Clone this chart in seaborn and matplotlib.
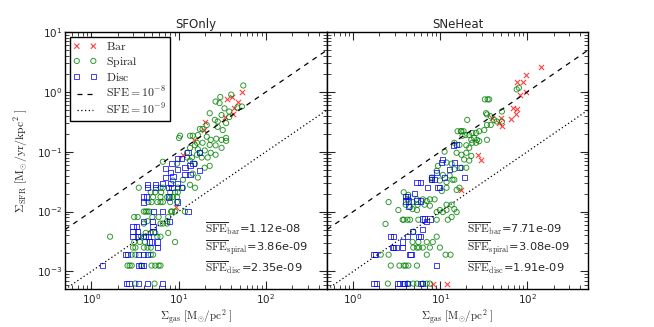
import numpy as np
import pandas as pd
import matplotlib
matplotlib.use('Agg')
import matplotlib.pyplot as plt
import seaborn as sns

# ---- data ----
xlim = (0.5, 500)
ylim = (5e-4, 10)
sfe_levels = [1e-8, 1e-9]
sfe_styles = [(0, (4, 4)), (0, (1, 2))]
sfe_labels = [r'$\rm SFE=10^{-8}$', r'$\rm SFE=10^{-9}$']

# SFOnly panel
bar_gas_sf = [36.2, 40.5, 53.6, 48.3, 43.5, 34.4, 20.3, 11.2, 19.5, 41.4, 15.0, 9.3]
bar_sfr_sf = [0.75, 0.82, 1.0, 0.69, 0.53, 0.38, 0.31, 0.089, 0.23, 0.43, 0.158, 0.0119]

spiral_gas_sf = [55, 40, 26.5, 29.4, 33.5, 47, 53, 38, 22.7, 31, 38, 26, 28, 35, 21,
                 17.5, 28, 32, 10.1, 13.5, 14.5, 16.6, 21, 23.3, 27, 31, 35, 16.2, 18.8,
                 22.7, 26.5, 31, 13.5, 15.4, 16.6, 19.9, 23.3, 26.5, 12.5, 14.2, 12.5,
                 13.5, 16.2, 18.4, 21.5, 17.5, 15.4, 9.6, 14.5, 19.9, 22.7, 11.2, 8.6,
                 13.5, 16.6, 6.6, 30, 18.8, 10.4, 35,
                 3.5, 6.2, 6.6, 9.8, 11.2, 15.4,
                 4.8, 5.4, 6.3, 8.0, 9.1, 9.8,
                 5.1, 6.2, 7.4, 8.0, 8.6, 9.6,
                 4.5, 4.9, 5.7, 6.2, 6.6, 8.0, 9.6,
                 4.0, 4.4, 4.6, 4.2, 8.4, 9.1, 8.2, 11.8,
                 3.1, 3.4, 5.0, 5.9, 7.6,
                 4.4, 7.4,
                 4.0, 6.2, 6.6, 7.4,
                 4.2, 4.8, 5.4, 7.6,
                 1.64, 3.7, 4.0, 5.7, 6.2,
                 3.1, 3.6, 4.1, 9.1,
                 3.0, 3.2, 4.0, 4.4, 4.8,
                 2.9, 3.2, 4.8, 5.1,
                 2.6, 2.75, 2.9, 3.7, 4.9, 5.4, 5.9, 6.2,
                 3.2, 5.3]
spiral_sfr_sf = [1.28, 0.90, 0.69, 0.65, 0.53, 0.55, 0.57, 0.47, 0.44, 0.41, 0.38, 0.34,
                 0.32, 0.30, 0.28, 0.24, 0.26, 0.23, 0.17, 0.185, 0.185, 0.19, 0.178,
                 0.158, 0.165, 0.158, 0.17, 0.141, 0.141, 0.13, 0.128, 0.116, 0.116,
                 0.128, 0.11, 0.105, 0.096, 0.089, 0.096, 0.080, 0.080, 0.071, 0.089,
                 0.080, 0.080, 0.096, 0.063, 0.063, 0.043, 0.054, 0.058, 0.034, 0.033,
                 0.028, 0.037, 0.068, 0.82, 0.24, 0.185, 0.152,
                 0.025, 0.025, 0.025, 0.025, 0.025, 0.025,
                 0.021, 0.021, 0.021, 0.021, 0.021, 0.021,
                 0.0175, 0.0175, 0.0175, 0.0175, 0.0175, 0.0175,
                 0.0144, 0.0144, 0.0144, 0.0144, 0.0144, 0.0144, 0.0144,
                 0.01, 0.01, 0.01, 0.01, 0.01, 0.01, 0.01, 0.01,
                 0.0081, 0.0081, 0.0081, 0.0081, 0.0081,
                 0.0069, 0.0069,
                 0.0063, 0.0063, 0.0063, 0.0063,
                 0.0044, 0.0044, 0.0044, 0.0044,
                 0.0038, 0.0038, 0.0038, 0.0038, 0.0038,
                 0.0031, 0.0031, 0.0031, 0.0031,
                 0.0025, 0.0025, 0.0025, 0.0025, 0.0025,
                 0.0019, 0.0019, 0.0019, 0.0019,
                 0.00125, 0.00125, 0.00125, 0.00125, 0.00125, 0.00125, 0.00125, 0.00125,
                 0.000625, 0.000625]

disc_gas_sf = [2.55, 2.7, 3.5, 4.4, 6.6,
               1.33, 3.5, 3.75, 4.0,
               2.45, 2.6, 3.5, 4.0, 4.4,
               5.7,
               4.6, 4.9, 5.7,
               3.0, 3.4, 4.2, 4.5,
               3.0, 3.4, 5.1,
               3.0, 3.3, 5.1,
               4.0, 5.0, 7.8,
               5.2, 6.5, 12.8,
               4.0, 9.8,
               4.0, 4.3, 7.6,
               4.4, 5.4, 7.6, 8.4, 10.8,
               9.8, 10.9, 8.4, 7.0, 8.0, 9.8, 11.8, 13.5, 7.0, 8.6, 11.8, 13.5,
               6.6, 8.0, 4.4, 5.4, 9.8, 14.6, 17.5, 12.8, 17.5]
disc_sfr_sf = [0.000625, 0.000625, 0.000625, 0.000625, 0.000625,
               0.00125, 0.00125, 0.00125, 0.00125,
               0.0019, 0.0019, 0.0019, 0.0019, 0.0019,
               0.0025,
               0.0031, 0.0031, 0.0031,
               0.0038, 0.0038, 0.0038, 0.0038,
               0.0046, 0.0046, 0.0046,
               0.0056, 0.0056, 0.0056,
               0.0069, 0.0069, 0.0069,
               0.01, 0.01, 0.01,
               0.0144, 0.0144,
               0.0175, 0.0175, 0.0175,
               0.025, 0.025, 0.025, 0.025, 0.025,
               0.077, 0.077, 0.063, 0.053, 0.045, 0.051, 0.054, 0.058, 0.037, 0.039,
               0.041, 0.041, 0.029, 0.029, 0.028, 0.028, 0.029, 0.063, 0.048, 0.096, 0.096]

# SNeHeat panel
bar_gas_sn = [144, 97.5, 77, 90, 97.5, 83.4, 67.7, 77, 73.2, 64.3, 49.5, 47, 51, 39,
              27.3, 29.4, 17.5, 8.2, 11.8]
bar_sfr_sn = [2.64, 1.95, 1.49, 1.49, 0.98, 0.88, 0.536, 0.52, 0.43, 0.355, 0.365, 0.30,
              0.27, 0.365, 0.089, 0.074, 0.0225, 0.000625, 0.000625]

spiral_gas_sn = [80, 75.5, 32.5, 35, 36.5, 20.4, 33.5, 34.4, 38, 41.5, 44.5, 51, 34.4, 38,
                 32, 28, 25.8, 23.3, 21.5, 19.4, 17.5, 15.8, 18, 24.5, 26.5, 34.4, 22.7,
                 23.3, 25.8, 28, 14.5, 16.6, 19.9, 21.5, 11.2, 15.4, 17.5, 19.9, 22.7,
                 18.8, 21.5, 9.4, 11.8, 13.5, 14.5, 17.5, 19.9, 9.1, 10.7, 13.8, 12.8,
                 8.0, 51, 17.2, 18.5,
                 8.0, 9.9, 11.8, 14.5, 16.6, 15.4, 11.8, 10.4, 3.8, 4.3,
                 2.55, 4.2, 4.8, 5.4, 6.3, 7.0, 7.6, 8.6,
                 4.0, 4.5, 5.5, 6.6, 7.6,
                 3.3, 4.8, 5.4, 9.1, 9.9, 10.7, 11.8, 11.8, 13.5, 14.5, 15.4,
                 13.5, 12.2, 9.1, 5.6, 4.2, 3.8, 4.5, 3.7, 2.35,
                 4.9, 9.1, 8.2, 5.6, 7.0, 4.8,
                 4.9, 5.4, 5.7, 6.3, 7.6, 9.9,
                 2.07, 2.55, 7.0, 11.5, 13.1,
                 2.7, 3.4, 3.8, 4.0, 4.3, 5.4,
                 2.5, 4.2, 4.9, 5.4, 6.3, 7.0, 7.6]
spiral_sfr_sn = [1.17, 1.10, 0.75, 0.75, 0.75, 0.34, 0.44, 0.42, 0.39, 0.34, 0.32, 0.32,
                 0.28, 0.28, 0.23, 0.22, 0.206, 0.206, 0.19, 0.19, 0.22, 0.22, 0.185, 0.17,
                 0.158, 0.158, 0.158, 0.141, 0.141, 0.15, 0.141, 0.13, 0.128, 0.116, 0.1,
                 0.096, 0.089, 0.096, 0.085, 0.074, 0.071, 0.058, 0.066, 0.063, 0.051,
                 0.054, 0.054, 0.048, 0.041, 0.034, 0.04, 0.037, 0.47, 0.22, 0.22,
                 0.034, 0.033, 0.031, 0.034, 0.025, 0.023, 0.025, 0.022, 0.021, 0.019,
                 0.0144, 0.016, 0.0144, 0.016, 0.016, 0.015, 0.016, 0.016,
                 0.013, 0.0119, 0.013, 0.013, 0.0125,
                 0.0106, 0.011, 0.0106, 0.0098, 0.0106, 0.0098, 0.0106, 0.013, 0.013,
                 0.011, 0.0098,
                 0.0081, 0.0073, 0.0073, 0.0073, 0.0073, 0.0073, 0.0073, 0.0073, 0.0062,
                 0.0046, 0.0038, 0.0031, 0.0031, 0.0031, 0.0031,
                 0.0025, 0.0025, 0.0025, 0.0025, 0.0025, 0.0025,
                 0.0019, 0.0019, 0.0019, 0.0019, 0.0019,
                 0.00125, 0.00125, 0.00125, 0.00125, 0.00125, 0.00125,
                 0.000625, 0.000625, 0.000625, 0.000625, 0.000625, 0.000625, 0.000625]

disc_gas_sn = [14.2, 15.4, 10.7, 10.4, 14.5, 16.6, 12.8, 9.1, 11.2, 8.0, 18.8,
               5.4, 5.9, 8.0, 8.6, 7.2, 9.4, 9.9, 5.1, 4.0, 4.2,
               4.0, 4.3, 5.4, 5.9, 4.3,
               6.6, 6.2, 7.6, 7.0, 6.3, 4.8,
               5.6, 5.9, 2.7, 2.9, 4.2,
               2.8, 3.1, 3.7, 2.9, 3.7,
               1.82, 4.6, 1.73, 4.5,
               9.1,
               1.73, 1.87, 3.2, 3.4, 3.8, 3.9, 4.2, 5.9, 6.3]
disc_sfr_sn = [0.128, 0.13, 0.074, 0.066, 0.066, 0.054, 0.051, 0.045, 0.037, 0.037, 0.037,
               0.031, 0.031, 0.034, 0.034, 0.025, 0.025, 0.025, 0.02, 0.018, 0.018,
               0.015, 0.015, 0.015, 0.015, 0.012,
               0.0075, 0.0075, 0.0075, 0.0069, 0.005, 0.0046,
               0.0038, 0.0038, 0.0038, 0.0038, 0.0038,
               0.0025, 0.0025, 0.0025, 0.0025, 0.0031,
               0.0019, 0.0019, 0.0019, 0.0019,
               0.00125,
               0.000625, 0.000625, 0.000625, 0.000625, 0.000625, 0.000625, 0.000625,
               0.000625, 0.000625]

sfe_text_sf = ['1.12e-08', '3.86e-09', '2.35e-09']
sfe_text_sn = ['7.71e-09', '3.08e-09', '1.91e-09']
sfe_names = ['bar', 'spiral', 'disc']


def panel(ax, title, bar, spiral, disc, sfe_text):
    # scatter points, one call per galaxy type
    sns.scatterplot(x=bar[0], y=bar[1], ax=ax, marker='x', color='r', s=14,
                    linewidth=0.8, alpha=0.75, label=r'$\rm Bar$')
    sns.scatterplot(x=spiral[0], y=spiral[1], ax=ax, marker='o', facecolors='none',
                    edgecolor='g', s=14, linewidth=0.7, alpha=0.8, label=r'$\rm Spiral$')
    sns.scatterplot(x=disc[0], y=disc[1], ax=ax, marker='s', facecolors='none',
                    edgecolor='b', s=14, linewidth=0.7, alpha=0.75, label=r'$\rm Disc$')
    # constant SFE lines: Sigma_SFR [Msun/yr/kpc^2] = SFE * Sigma_gas [Msun/pc^2] * 1e6
    gas_line = np.array(xlim)
    for sfe, ls, lab in zip(sfe_levels, sfe_styles, sfe_labels):
        ax.plot(gas_line, sfe * gas_line * 1e6, color='k', linestyle=ls, lw=0.9, label=lab)

    ax.set_xscale('log')
    ax.set_yscale('log')
    ax.set_xlim(xlim)
    ax.set_ylim(ylim)
    ax.set_title(title, fontsize=8.5, pad=3)
    ax.set_xlabel(r'$\Sigma_{\rm gas}\ [\rm M_{\odot}/pc^2\ ]$', fontsize=8, labelpad=1)
    ax.tick_params(which='both', direction='in', top=True, right=True, labelsize=7.5,
                   pad=2)
    ax.tick_params(which='major', length=6, width=0.8)
    ax.tick_params(which='minor', length=3, width=0.6)
    for sp in ax.spines.values():
        sp.set_linewidth(1.0)
        sp.set_color('k')
    ys = [0.237, 0.16, 0.085]
    for name, val, yy in zip(sfe_names, sfe_text, ys):
        ax.text(0.535, yy, r'$\overline{\rm SFE}_{\rm %s}$=%s' % (name, val),
                transform=ax.transAxes, fontsize=8.2, va='center', ha='left')


sns.set_style('ticks')
plt.rcParams['font.family'] = ['DejaVu Sans']
plt.rcParams['mathtext.fontset'] = 'cm'

fig = plt.figure(figsize=(6.54, 3.27), dpi=100)
ax1 = fig.add_axes([0.0994, 0.115, 0.4006, 0.787])
ax2 = fig.add_axes([0.5, 0.115, 0.3994, 0.787], sharey=ax1)

panel(ax1, 'SFOnly', (bar_gas_sf, bar_sfr_sf), (spiral_gas_sf, spiral_sfr_sf),
      (disc_gas_sf, disc_sfr_sf), sfe_text_sf)
panel(ax2, 'SNeHeat', (bar_gas_sn, bar_sfr_sn), (spiral_gas_sn, spiral_sfr_sn),
      (disc_gas_sn, disc_sfr_sn), sfe_text_sn)

ax1.set_ylabel(r'$\Sigma_{\rm SFR}\ [\rm M_{\odot}/yr/kpc^2\ ]$', fontsize=8.5)
ax2.tick_params(labelleft=False)
ax2.set_ylabel('')
ax2.get_legend().remove()

leg = ax1.legend(loc='upper left', fontsize=8.5, scatterpoints=2, numpoints=2,
                 scatteryoffsets=[0.5], fancybox=False, edgecolor='k',
                 borderaxespad=0.4, labelspacing=0.15, borderpad=0.3,
                 handlelength=2.0)
leg.get_frame().set_linewidth(1.0)
leg.get_frame().set_alpha(1)

fig.savefig('out.png', dpi=100)
